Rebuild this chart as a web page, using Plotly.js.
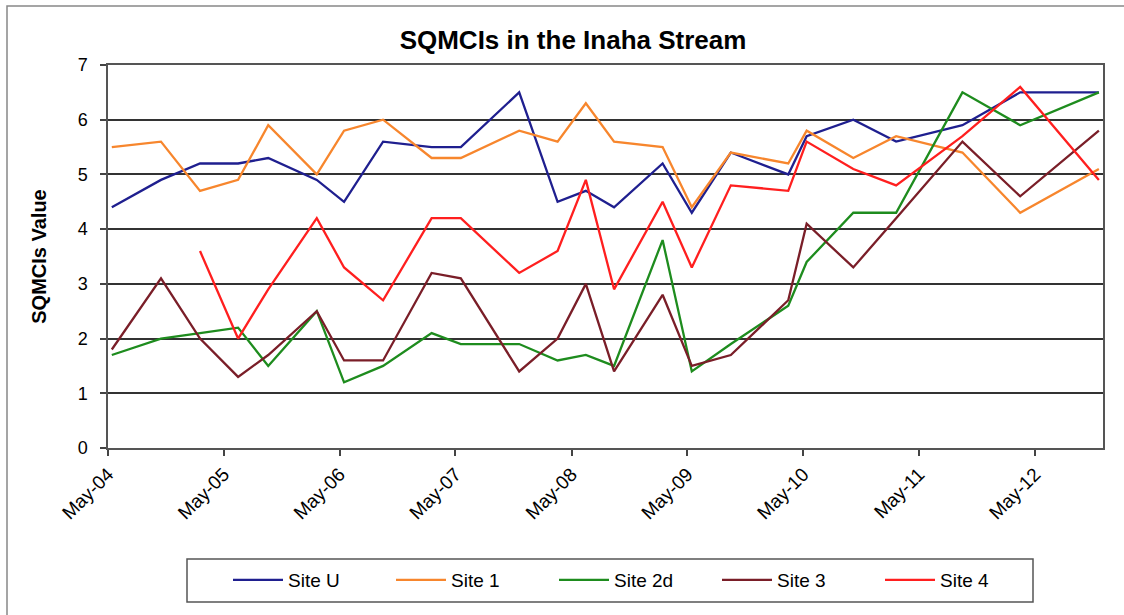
<!DOCTYPE html>
<html>
<head>
<meta charset="utf-8">
<script src="https://cdn.plot.ly/plotly-3.0.1.min.js"></script>
<style>
  body { margin: 0; background: #fff; }
  #plot { width: 1124px; height: 615px; }
</style>
</head>
<body>
<div id="plot"></div>
<script>
let dates = [
  "2004-05-13", "2004-10-15", "2005-02-15", "2005-06-15", "2005-09-18", "2006-02-18",
  "2006-05-15", "2006-09-15", "2007-02-15", "2007-05-18", "2007-11-18", "2008-03-18",
  "2008-06-15", "2008-09-12", "2009-02-12", "2009-05-15", "2009-09-15", "2010-03-15",
  "2010-05-12", "2010-10-06", "2011-02-18", "2011-09-15", "2012-03-15", "2012-11-18"
];

// SQMCI values per site
let siteU  = [4.4, 4.9, 5.2, 5.2, 5.3, 4.9, 4.5, 5.6, 5.5, 5.5, 6.5, 4.5, 4.7, 4.4, 5.2, 4.3, 5.4, 5.0, 5.7, 6.0, 5.6, 5.9, 6.5, 6.5];
let site1  = [5.5, 5.6, 4.7, 4.9, 5.9, 5.0, 5.8, 6.0, 5.3, 5.3, 5.8, 5.6, 6.3, 5.6, 5.5, 4.4, 5.4, 5.2, 5.8, 5.3, 5.7, 5.4, 4.3, 5.1];
let site2d = [1.7, 2.0, 2.1, 2.2, 1.5, 2.5, 1.2, 1.5, 2.1, 1.9, 1.9, 1.6, 1.7, 1.5, 3.8, 1.4, 1.9, 2.6, 3.4, 4.3, 4.3, 6.5, 5.9, 6.5];
let site3  = [1.8, 3.1, 2.0, 1.3, 1.7, 2.5, 1.6, 1.6, 3.2, 3.1, 1.4, 2.0, 3.0, 1.4, 2.8, 1.5, 1.7, 2.7, 4.1, 3.3, 4.2, 5.6, 4.6, 5.8];
let site4  = [null, null, 3.6, 2.0, 2.9, 4.2, 3.3, 2.7, 4.2, 4.2, 3.2, 3.6, 4.9, 2.9, 4.5, 3.3, 4.8, 4.7, 5.6, 5.1, 4.8, 5.7, 6.6, 4.9];

let siteNames = ["Site U", "Site 1", "Site 2d", "Site 3", "Site 4"];
let siteColors = ["#1f1f8f", "#f7862d", "#1e8c1e", "#7a1e28", "#ff1f1f"];
let siteValues = [siteU, site1, site2d, site3, site4];

let data = [];
for (let i in siteNames) {
  data.push({
    x: dates,
    y: siteValues[i],
    name: siteNames[i],
    type: "scatter",
    mode: "lines",
    line: { color: siteColors[i], width: 2.3 }
  });
}

// plot area in the reference: x 108..1103, y 65..448
let L = 108, R = 1103, T = 65, B = 448;
let pw = R - L, ph = B - T;
let px = v => (v - L) / pw;   // page x -> paper x
let py = v => (B - v) / ph;   // page y -> paper y

let layout = {
  width: 1124,
  height: 615,
  margin: { l: L, r: 1124 - R, t: T, b: 615 - B, autoexpand: false },
  paper_bgcolor: "#ffffff",
  plot_bgcolor: "#ffffff",
  font: { family: "Liberation Sans, Arial, sans-serif", color: "#000" },
  title: {
    text: "<b>SQMCIs in the Inaha Stream</b>",
    font: { size: 26, color: "#000" },
    x: 573 / 1124, xref: "container", xanchor: "center",
    y: 1 - 40 / 615, yref: "container", yanchor: "middle"
  },
  xaxis: {
    type: "date",
    range: ["2004-05-01", "2012-12-01"],
    tick0: "2004-05-01",
    dtick: "M12",
    tickformat: "%b-%y",
    tickangle: -45,
    tickfont: { size: 19 },
    ticks: "outside",
    ticklen: 6,
    tickwidth: 1.5,
    tickcolor: "#444",
    showgrid: false,
    showline: true,
    linecolor: "#555",
    linewidth: 1.5,
    mirror: true,
    zeroline: false
  },
  yaxis: {
    range: [0, 7],
    dtick: 1,
    tickfont: { size: 18 },
    ticks: "outside",
    ticklen: 6,
    tickwidth: 1.5,
    tickcolor: "#444",
    ticklabelstandoff: 9,
    showgrid: true,
    gridcolor: "#333",
    gridwidth: 1.5,
    showline: true,
    linecolor: "#555",
    linewidth: 1.5,
    mirror: true,
    zeroline: false,
    title: { text: "<b>SQMCIs Value</b>", font: { size: 20 }, standoff: 26 }
  },
  legend: {
    orientation: "h",
    x: px(228), xanchor: "left",
    y: py(580), yanchor: "middle",
    borderwidth: 0,
    bgcolor: "rgba(0,0,0,0)",
    font: { size: 19 },
    itemwidth: 50,
    entrywidth: 98,
    entrywidthmode: "pixels",
    tracegroupgap: 0
  },
  shapes: [
    {
      // outer chart border (top and left only are visible)
      type: "path",
      xref: "paper", yref: "paper",
      path: "M " + px(1130) + " " + py(6) + " L " + px(7) + " " + py(6) + " L " + px(7) + " " + py(620),
      line: { color: "#888", width: 1.5 }
    },
    {
      // legend box
      type: "rect",
      xref: "paper", yref: "paper",
      x0: px(187), x1: px(1033), y0: py(602), y1: py(559),
      line: { color: "#555", width: 1.5 }
    }
  ],
  showlegend: true
};

Plotly.newPlot("plot", data, layout, { displayModeBar: false });
</script>
</body>
</html>
